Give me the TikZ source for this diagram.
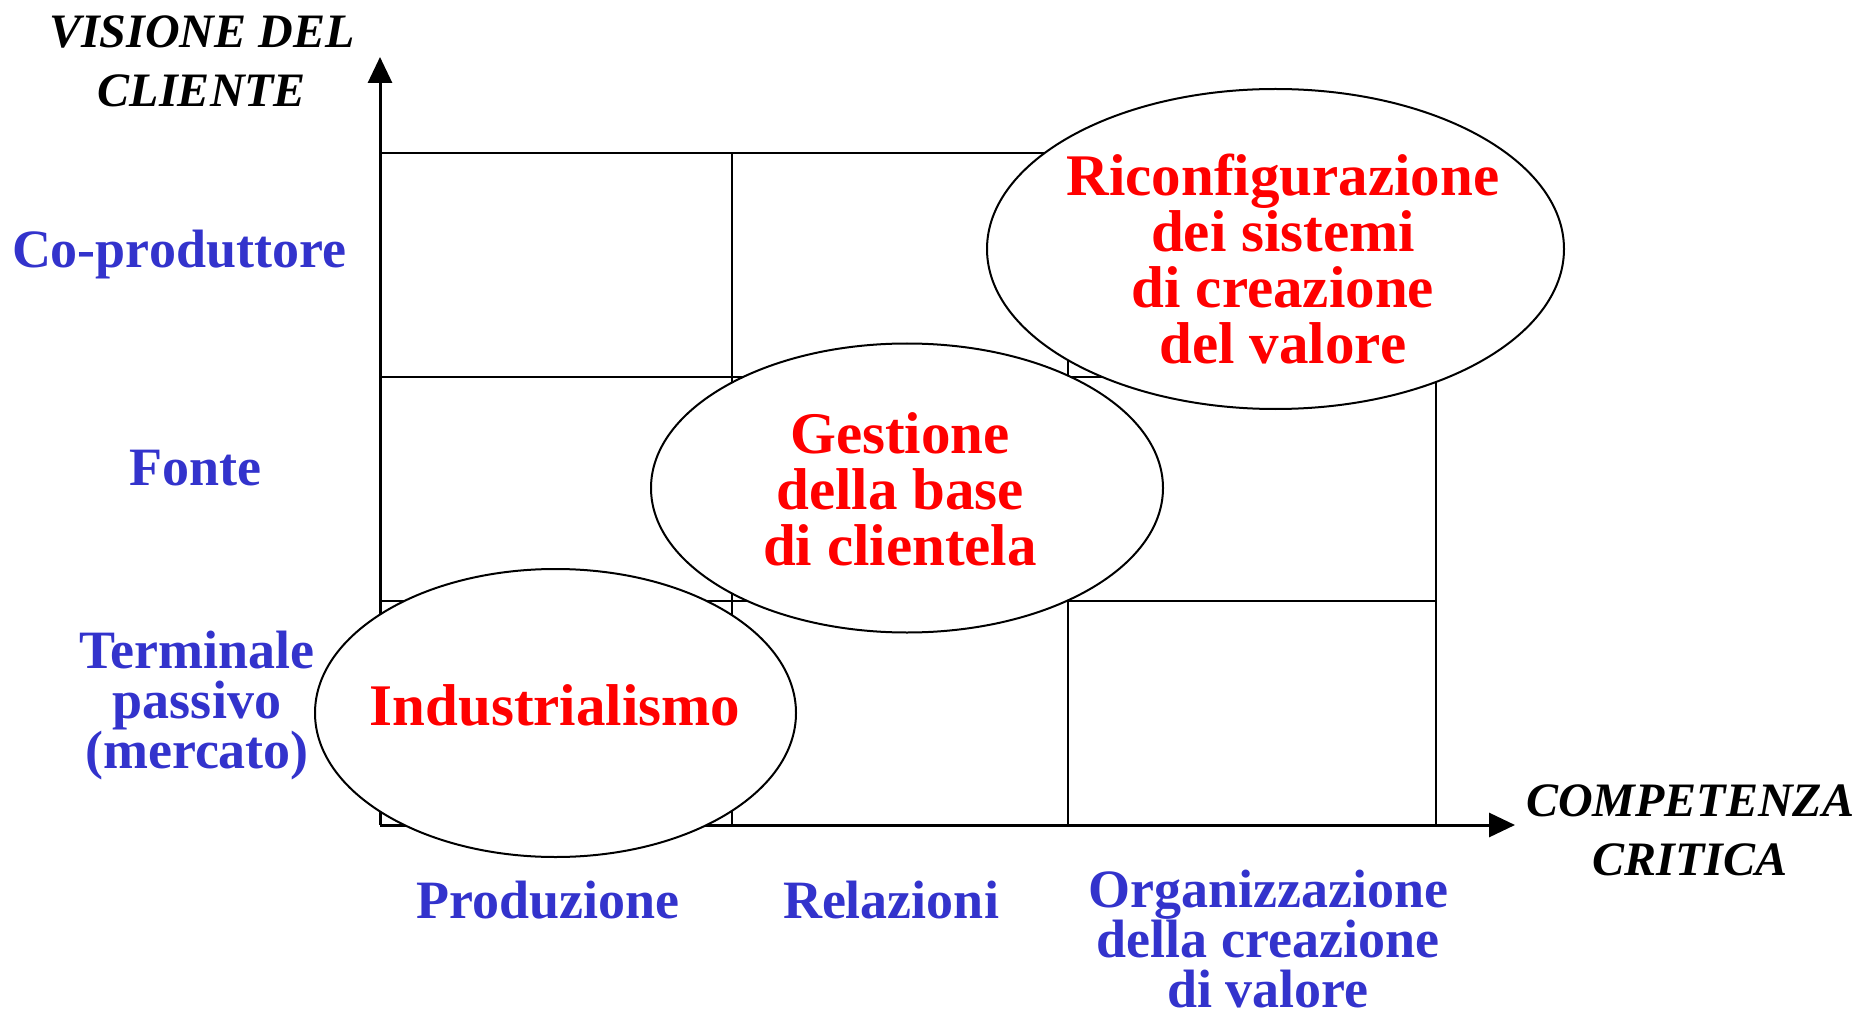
\documentclass[tikz,border=0pt]{standalone}
\usepackage{fontspec}
\setmainfont{Liberation Serif}
\usetikzlibrary{shapes.geometric,arrows.meta,positioning}
\definecolor{levelblue}{RGB}{51,51,204}
\definecolor{modelred}{RGB}{255,0,0}

\begin{document}
\begin{tikzpicture}[x=1pt,y=-1pt]
      \tikzstyle{gridline}=[line width=1.6pt, draw=black]
      \tikzstyle{axis}=[line width=3pt, -{Triangle[length=26pt,width=24pt]}]
      \tikzstyle{bubble}=[ellipse, draw=black, line width=2pt, fill=white, inner sep=0pt]
      \tikzstyle{model}=[anchor=base, align=center, text=modelred, font=\bfseries\fontsize{59}{56}\selectfont]
      \tikzstyle{level}=[anchor=base, align=center, text=levelblue, font=\bfseries\fontsize{54}{50}\selectfont]
      \tikzstyle{axislbl}=[anchor=base, align=center, font=\bfseries\itshape\fontsize{48}{59}\selectfont]

      \useasboundingbox (0,0) rectangle (1856,1016);

      % grid
      \foreach \gx in {732,1068,1436}
        \draw[gridline] (\gx,153) -- (\gx,825);
      \foreach \gy in {153,377,601}
        \draw[gridline] (380,\gy) -- (1436,\gy);

      % axes
      \coordinate (origin) at (380,825);
      \coordinate (ytip) at (380,57);
      \coordinate (xtip) at (1515,825);
      \draw[axis] (origin) -- (ytip);
      \draw[axis] (origin) -- (xtip);

      \node[axislbl] (vision) at (202,107) {VISIONE DEL\\CLIENTE};
      \node[axislbl] (compet) at (1690,875) {COMPETENZA\\CRITICA};

      % customer roles
      \node[level] (coprod) at (179,268) {Co-produttore};
      \node[level] (fonte) at (195,485) {Fonte};
      \node[level] (termin) at (197,768) {Terminale\\passivo\\(mercato)};

      % critical competences
      \node[level] (produz) at (548,918) {Produzione};
      \node[level] (relaz) at (891,918) {Relazioni};
      \node[level] (organiz) at (1268,1007) {Organizzazione\\della creazione\\di valore};

      % business models
      \node[bubble, minimum width=481pt, minimum height=288pt] (indus) at (555.5,713) {};
      \node[bubble, minimum width=512pt, minimum height=289pt] (gest) at (907,488) {};
      \node[bubble, minimum width=577pt, minimum height=320pt] (ricon) at (1275.5,249) {};

      \node[model] (industxt) at (555,725) {Industrialismo};
      \node[model] (gesttxt) at (900,565) {Gestione\\della base\\di clientela};
      \node[model] (ricontxt) at (1283,363) {Riconfigurazione\\dei sistemi\\di creazione\\del valore};
\end{tikzpicture}
\end{document}
